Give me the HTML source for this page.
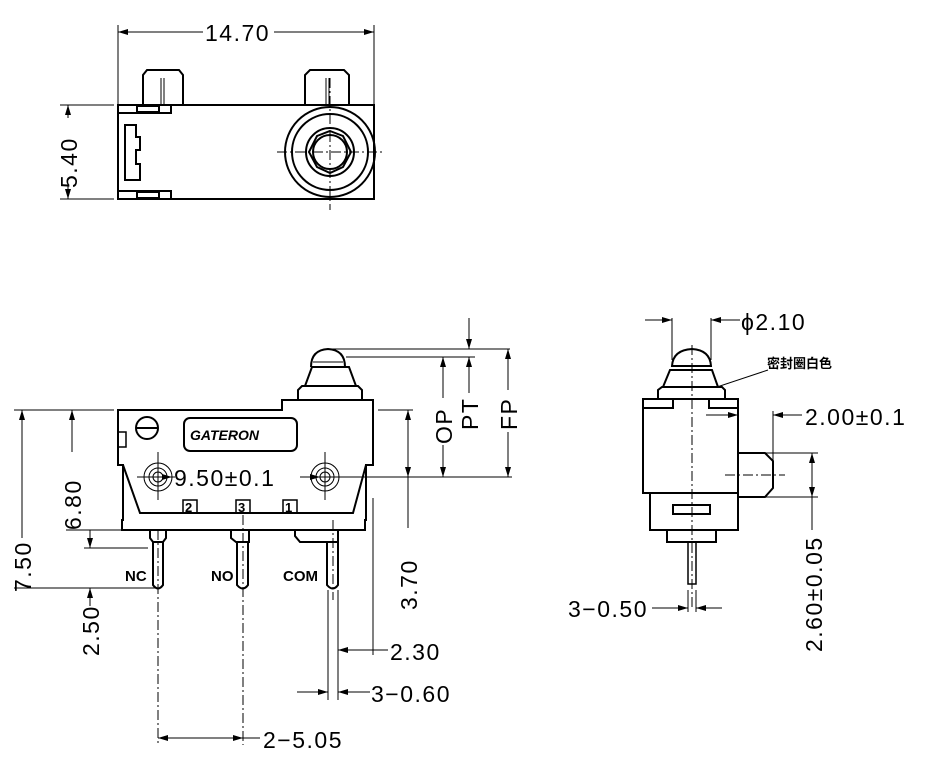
<!DOCTYPE html>
<html><head><meta charset="utf-8"><style>
html,body{margin:0;padding:0;background:#fff}
svg{display:block}
text{font-family:"Liberation Sans","Noto Sans CJK SC",sans-serif;fill:#000}
.d{font-size:23px;letter-spacing:1.5px}
</style></head><body>
<svg width="928" height="783" viewBox="0 0 928 783" xmlns="http://www.w3.org/2000/svg">
<defs>
<marker id="a" viewBox="0 0 10 6" refX="10" refY="3" markerWidth="10" markerHeight="6" orient="auto-start-reverse" markerUnits="userSpaceOnUse"><path d="M0,0 L10,3 L0,6z" fill="#000"/></marker>
</defs>
<g stroke="#000" fill="none" stroke-width="1">
<!-- TOP VIEW -->
<line x1="118" y1="25" x2="118" y2="104"/><line x1="374" y1="25" x2="374" y2="104"/>
<line x1="118" y1="32" x2="203" y2="32" marker-start="url(#a)"/><line x1="274" y1="32" x2="374" y2="32" marker-end="url(#a)"/>
<line x1="60" y1="105" x2="114" y2="105"/><line x1="60" y1="199" x2="114" y2="199"/>
<line x1="68" y1="105" x2="68" y2="118" marker-start="url(#a)"/><line x1="68" y1="186" x2="68" y2="199" marker-end="url(#a)"/>
<g stroke-width="2">
<rect x="118" y="105" width="256" height="94"/>
<rect x="118" y="105" width="53" height="8"/><rect x="118" y="191" width="53" height="8"/>
<rect x="137" y="106" width="22" height="6"/><rect x="137" y="192" width="22" height="6"/>
<path d="M143,105 V75 L147,70 H179 L183,75 V105"/>
<path d="M305,105 V75 L310,70 H344 L349,75 V105"/>
<line x1="161" y1="78" x2="161" y2="105" stroke-width="1"/><line x1="164" y1="78" x2="164" y2="105" stroke-width="1"/>
<line x1="326" y1="78" x2="326" y2="105" stroke-width="1"/><line x1="329" y1="78" x2="329" y2="105" stroke-width="1"/>
<path d="M125,125 H136 V137 H140 V150 H136 V164 H140 V180 H125 Z"/>
<circle cx="330" cy="152" r="45"/><circle cx="330" cy="152" r="38"/>
<circle cx="330" cy="152" r="24"/><circle cx="330" cy="152" r="17"/>
<polygon points="330,131 343,136 351,152 343,167 330,173 317,167 309,152 317,136"/>
</g>
<line x1="277" y1="152" x2="385" y2="152" stroke-dasharray="10,3,2,3"/>
<line x1="330" y1="78" x2="330" y2="210" stroke-dasharray="10,3,2,3"/>

<!-- FRONT VIEW -->
<g stroke-width="2">
<path d="M118,410 H282 V400 H373 V465 L366,465 V520 H365 V530 H122 V520 H123 V465 H118 Z"/>
<path d="M123,465 L140,513 H353 L366,465"/>
<path d="M298,400 V390 L302,386 H358 L362,390 V400"/>
<path d="M305,386 L312,367 H349 L356,386"/>
<path d="M311,367 Q311,350 328,349 Q345,350 345,367"/>
<line x1="313" y1="362" x2="343" y2="362" stroke-width="1"/>
<path d="M118,432 H126 V447 H118" stroke-width="1.5"/>
<circle cx="147" cy="428" r="11"/><line x1="136" y1="428" x2="158" y2="428"/>
<rect x="184" y="418" width="113" height="33" rx="6"/>
<rect x="183" y="500" width="14" height="13" stroke-width="1.5"/>
<rect x="236" y="500" width="14" height="13" stroke-width="1.5"/>
<rect x="283" y="500" width="14" height="13" stroke-width="1.5"/>
<path d="M150,530 V538 L153,542 H163 L166,538 V530"/><path d="M153,542 V585 Q158,592 163,585 V542"/>
<path d="M231,530 V538 L236,542 H249 V530"/><path d="M237,542 V585 Q243,592 248,585 V542"/>
<path d="M295,530 V536 L300,542 H338 V530"/><path d="M327,542 V585 Q333,592 338,585 V542"/>
</g>
<g stroke-width="1">
<circle cx="158" cy="477" r="14"/><circle cx="158" cy="477" r="9"/><circle cx="158" cy="477" r="5"/>
<circle cx="325" cy="477" r="14"/><circle cx="325" cy="477" r="9"/><circle cx="325" cy="477" r="5"/>
<line x1="137" y1="477" x2="175" y2="477"/><line x1="158" y1="452" x2="158" y2="500"/>
<line x1="314" y1="477" x2="512" y2="477"/><line x1="325" y1="452" x2="325" y2="500"/>
<line x1="158" y1="477" x2="172" y2="477" marker-end="url(#a)"/>
<line x1="300" y1="477" x2="320" y2="477" marker-end="url(#a)"/>
</g>
<line x1="158" y1="530" x2="158" y2="745" stroke-dasharray="10,3,2,3"/>
<line x1="243" y1="515" x2="243" y2="745" stroke-dasharray="10,3,2,3"/>
<line x1="333" y1="520" x2="333" y2="600" stroke-dasharray="10,3,2,3"/>
<!-- right dims -->
<line x1="330" y1="349" x2="510" y2="349"/><line x1="346" y1="357" x2="475" y2="357"/>
<line x1="469" y1="318" x2="469" y2="349" marker-end="url(#a)"/>
<line x1="469" y1="357" x2="469" y2="393" marker-start="url(#a)"/>
<line x1="443" y1="357" x2="443" y2="398" marker-start="url(#a)"/><line x1="443" y1="445" x2="443" y2="477" marker-end="url(#a)"/>
<line x1="508" y1="349" x2="508" y2="390" marker-start="url(#a)"/><line x1="508" y1="432" x2="508" y2="477" marker-end="url(#a)"/>
<line x1="378" y1="410" x2="413" y2="410"/>
<line x1="408" y1="410" x2="408" y2="477" marker-start="url(#a)" marker-end="url(#a)"/>
<line x1="408" y1="477" x2="408" y2="528"/>
<line x1="373" y1="498" x2="373" y2="655"/>
<line x1="328" y1="590" x2="328" y2="700"/><line x1="338" y1="590" x2="338" y2="700"/>
<line x1="338" y1="650" x2="373" y2="650" marker-start="url(#a)"/><line x1="373" y1="650" x2="388" y2="650"/>
<line x1="297" y1="692" x2="328" y2="692" marker-end="url(#a)"/><line x1="338" y1="692" x2="370" y2="692" marker-start="url(#a)"/>
<line x1="158" y1="738" x2="243" y2="738" marker-start="url(#a)" marker-end="url(#a)"/><line x1="243" y1="738" x2="260" y2="738"/>
<!-- left dims -->
<line x1="14" y1="410" x2="114" y2="410"/>
<line x1="22" y1="410" x2="22" y2="538" marker-start="url(#a)"/>
<line x1="14" y1="588" x2="156" y2="588"/>
<line x1="72" y1="410" x2="72" y2="452" marker-start="url(#a)"/>
<line x1="66" y1="530" x2="122" y2="530"/>
<line x1="84" y1="548" x2="148" y2="548"/>
<line x1="90" y1="530" x2="90" y2="548" marker-end="url(#a)"/><line x1="90" y1="588" x2="90" y2="606" marker-start="url(#a)"/>

<!-- SIDE VIEW -->
<g stroke-width="2">
<path d="M643,399 H738 V493 H643 Z"/>
<path d="M643,399 V408 H673 V399 M738,399 V408 H709 V399"/>
<path d="M658,399 V390 L662,387 H722 L725,390 V399"/>
<path d="M663,387 L670,370 H712 L718,387"/>
<path d="M672,366 Q673,350 692,349 Q710,350 711,366 Z"/>
<path d="M738,453 H765 L773,461 V488 L765,497 H738"/>
<path d="M650,493 V530 H738 V493"/><path d="M667,530 V542 H716 V530"/>
<rect x="673" y="505" width="37" height="9"/>
<rect x="688" y="542" width="8" height="42" stroke-width="1.5"/>
</g>
<line x1="692" y1="345" x2="692" y2="610" stroke-dasharray="10,3,2,3"/>
<line x1="725" y1="475" x2="785" y2="475" stroke-dasharray="10,3,2,3"/>
<line x1="672" y1="318" x2="672" y2="360"/><line x1="711" y1="318" x2="711" y2="360"/>
<line x1="645" y1="320" x2="672" y2="320" marker-end="url(#a)"/><line x1="711" y1="320" x2="740" y2="320" marker-start="url(#a)"/>
<line x1="717" y1="387" x2="768" y2="370"/>
<line x1="706" y1="415" x2="738" y2="415" marker-end="url(#a)"/>
<line x1="773" y1="411" x2="773" y2="460"/>
<line x1="773" y1="415" x2="802" y2="415" marker-start="url(#a)"/>
<line x1="765" y1="453" x2="818" y2="453"/><line x1="765" y1="497" x2="818" y2="497"/>
<line x1="812" y1="453" x2="812" y2="497" marker-start="url(#a)" marker-end="url(#a)"/>
<line x1="812" y1="497" x2="812" y2="530"/>
<line x1="688" y1="590" x2="688" y2="612"/><line x1="696" y1="590" x2="696" y2="612"/>
<line x1="652" y1="608" x2="688" y2="608" marker-end="url(#a)"/><line x1="696" y1="608" x2="722" y2="608" marker-start="url(#a)"/>
</g>

<g class="d">
<text x="205" y="41">14.70</text>
<text transform="translate(77,188) rotate(-90)">5.40</text>
<text transform="translate(31,592) rotate(-90)">7.50</text>
<text transform="translate(81,530) rotate(-90)">6.80</text>
<text transform="translate(99,656) rotate(-90)">2.50</text>
<text x="174" y="486">9.50±0.1</text>
<text transform="translate(417,610) rotate(-90)">3.70</text>
<text transform="translate(452,444) rotate(-90)">OP</text>
<text transform="translate(478,430) rotate(-90)">PT</text>
<text transform="translate(517,430) rotate(-90)">FP</text>
<text x="390" y="660">2.30</text>
<text x="371" y="702">3−0.60</text>
<text x="263" y="748">2−5.05</text>
<text x="741" y="330">ϕ2.10</text>
<text x="805" y="425">2.00±0.1</text>
<text transform="translate(822,652) rotate(-90)">2.60±0.05</text>
<text x="568" y="617">3−0.50</text>
</g>
<text x="190" y="440" font-size="14" font-weight="bold" font-style="italic">GATERON</text>
<g font-size="13" font-weight="bold">
<text x="185" y="512">2</text><text x="238" y="512">3</text><text x="285" y="512">1</text>
</g>
<g font-size="15" font-weight="bold">
<text x="125" y="581">NC</text><text x="211" y="581">NO</text><text x="283" y="581">COM</text>
</g>
<text x="767" y="368" font-size="13" font-weight="bold">密封圈白色</text>
</svg>
</body></html>
